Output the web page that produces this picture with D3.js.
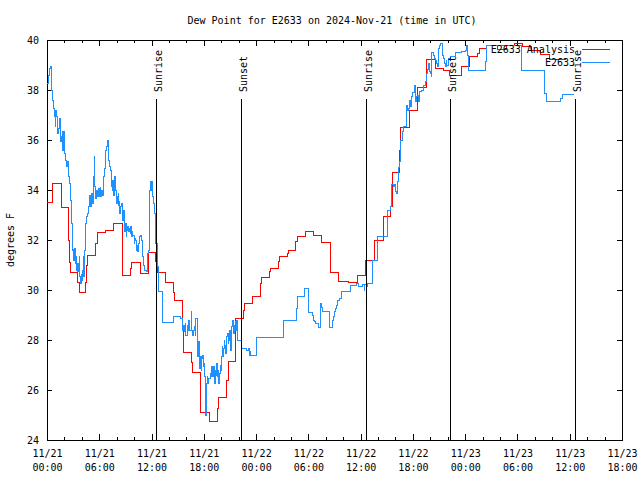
<!DOCTYPE html>
<html><head><meta charset="utf-8">
<script src="https://cdn.jsdelivr.net/npm/d3@7"></script>
<style>
body{margin:0;background:#fff}
svg text{font-family:"DejaVu Sans Mono","Liberation Mono",monospace;font-size:10px;fill:#000}
</style>
</head><body>
<svg id="c" width="640" height="480"></svg>
<script>
// ---------- data ----------
const title = "Dew Point for E2633 on 2024-Nov-21 (time in UTC)";
const yLabel = "degrees F";
const seriesNames = ["E2633 Analysis", "E2633"];
const seriesColors = ["#ff0000", "#1e90ff"];

// x: hours since 2024-11-21 00:00 UTC
const xTickHours = [0, 6, 12, 18, 24, 30, 36, 42, 48, 54, 60, 66];
const xTickDates = ["11/21","11/21","11/21","11/21","11/22","11/22","11/22","11/22","11/23","11/23","11/23","11/23"];
const xTickTimes = ["00:00","06:00","12:00","18:00","00:00","06:00","12:00","18:00","00:00","06:00","12:00","18:00"];
const yTicks = [24, 26, 28, 30, 32, 34, 36, 38, 40];

const sunEventHours = [12.47, 22.22, 36.57, 46.21, 60.56];
const sunEventLabels = ["Sunrise", "Sunset", "Sunrise", "Sunset", "Sunrise"];

// E2633 Analysis (red)
const analysisHours = [
  0, 0.64, 1.72, 2.44, 2.56, 2.67, 3.48, 3.71, 4.45, 4.57,
  4.68, 5.6, 5.74, 6.69, 7.61, 8.7, 9.62, 9.73, 10.71, 11.63,
  12.51, 12.63, 13.61, 14.53, 14.65, 15.56, 15.68, 16.6, 16.71, 17.63,
  18.66, 19.58, 19.7, 20.66, 20.78, 21.69, 22.53, 22.65, 23.62, 24.54,
  24.63, 25.57, 25.67, 26.58, 26.66, 27.58, 27.7, 28.56, 28.7, 29.65,
  30.57, 31.54, 32.58, 33.49, 34.62, 35.62, 36.54, 37.57, 38.6, 39.44,
  39.63, 39.69, 40.5, 40.61, 41.59, 41.64, 42.56, 43.54, 43.6, 44.57,
  45.55, 46.23, 47.56, 48.47, 49.39, 49.62, 50.42, 51.68, 52.71, 53.64,
  54.55, 55.59, 56.62, 57.65, 59.61
];
const analysisValues = [
  33.5, 34.25, 33.3, 32.0, 31.1, 30.7, 30.3, 29.9, 30.3, 31.0,
  31.4, 31.85, 32.3, 32.4, 32.65, 30.6, 30.85, 31.1, 30.65, 31.5,
  31.13, 30.7, 30.3, 29.9, 29.6, 28.6, 27.5, 27.1, 26.7, 25.1,
  24.75, 25.25, 25.7, 26.4, 27.15, 28.87, 29.2, 29.47, 29.75, 30.25,
  30.5, 30.73, 30.87, 31.13, 31.33, 31.47, 31.6, 31.93, 32.16, 32.33,
  32.2, 31.9, 30.7, 30.36, 30.3, 30.6, 31.2, 31.97, 32.93, 33.36,
  34.25, 34.7, 35.6, 36.5, 37.0, 37.2, 38.1, 38.67, 39.23, 38.87,
  38.8, 38.58, 38.96, 39.33, 39.47, 39.65, 39.77, 39.64, 39.77, 39.87,
  39.73, 39.57, 39.44, 39.23, 39.23
];

// E2633 observations (blue)
const obsHours = [
  0.00, 0.15, 0.23, 0.34, 0.42, 0.46, 0.53, 0.61, 0.72, 0.84,
  0.92, 0.99, 1.03, 1.11, 1.18, 1.22, 1.30, 1.37, 1.49, 1.56,
  1.60, 1.68, 1.75, 1.79, 1.87, 1.94, 1.98, 2.06, 2.13, 2.25,
  2.29, 2.36, 2.44, 2.52, 2.55, 2.63, 2.71, 2.78, 2.82, 2.90,
  2.94, 3.01, 3.09, 3.13, 3.20, 3.24, 3.32, 3.39, 3.47, 3.55,
  3.58, 3.66, 3.70, 3.77, 3.85, 3.89, 3.96, 4.00, 4.08, 4.16,
  4.19, 4.27, 4.35, 4.42, 4.54, 4.61, 4.80, 4.84, 4.92, 4.99,
  5.07, 5.18, 5.30, 5.38, 5.41, 5.49, 5.57, 5.60, 5.68, 5.76,
  5.83, 5.95, 6.06, 6.10, 6.18, 6.25, 6.33, 6.44, 6.52, 6.56,
  6.63, 6.67, 6.75, 6.82, 6.90, 6.94, 7.01, 7.09, 7.21, 7.28,
  7.40, 7.47, 7.55, 7.62, 7.70, 7.78, 7.85, 7.93, 8.01, 8.08,
  8.16, 8.20, 8.27, 8.35, 8.46, 8.54, 8.62, 8.69, 8.77, 8.84,
  8.92, 9.00, 9.07, 9.15, 9.23, 9.30, 9.49, 9.53, 9.61, 9.68,
  9.76, 9.87, 9.99, 10.06, 10.14, 10.26, 10.33, 10.37, 10.52, 10.64,
  10.71, 10.83, 10.94, 11.02, 11.09, 11.21, 11.40, 11.51, 11.59, 11.67,
  11.78, 11.86, 11.97, 12.05, 12.16, 12.24, 12.35, 12.51, 12.63, 12.74,
  12.81, 13.2, 14.53, 15.38, 15.5, 15.61, 15.68, 15.76, 15.87, 15.95,
  16.07, 16.14, 16.25, 16.33, 16.41, 16.53, 16.64, 16.71, 16.83, 16.91,
  16.99, 17.1, 17.22, 17.29, 17.4, 17.48, 17.6, 17.68, 17.75, 17.83,
  17.91, 17.98, 18.06, 18.2, 18.29, 18.37, 18.43, 18.55, 18.71, 18.78,
  18.86, 18.94, 19.01, 19.09, 19.17, 19.24, 19.32, 19.4, 19.51, 19.58,
  19.66, 19.74, 19.81, 19.89, 19.97, 20.04, 20.12, 20.2, 20.27, 20.35,
  20.43, 20.5, 20.58, 20.66, 20.73, 20.81, 20.89, 20.96, 21.04, 21.12,
  21.19, 21.27, 21.35, 21.42, 21.5, 21.58, 21.65, 21.73, 21.81, 22.27,
  22.91, 23.11, 23.19, 23.3, 23.37, 24.06, 27.12, 27.2, 28.65, 28.76,
  29.53, 29.99, 30.07, 30.45, 30.57, 30.76, 30.83, 31.14, 31.4, 31.52,
  31.6, 32.48, 32.75, 32.86, 32.98, 33.06, 33.24, 33.36, 33.52, 33.82,
  34.89, 35.54, 35.81, 36.19, 36.42, 36.5, 36.62, 36.77, 37.31, 37.37,
  37.88, 37.95, 39.03, 39.14, 39.41, 39.52, 39.78, 39.9, 40.01, 40.17,
  40.24, 40.36, 40.47, 40.55, 40.63, 40.86, 40.93, 41.24, 41.32, 41.39,
  41.51, 41.62, 41.7, 41.82, 41.93, 42.19, 42.31, 42.39, 42.47, 42.65,
  42.77, 43.04, 43.23, 43.42, 43.54, 43.69, 43.77, 43.88, 44.0, 44.11,
  44.19, 44.38, 44.46, 44.57, 44.69, 44.77, 44.88, 44.99, 45.06, 45.15,
  45.45, 45.53, 45.61, 45.72, 45.8, 45.91, 46.1, 46.29, 46.86, 47.52,
  48.01, 48.13, 48.24, 48.4, 50.31, 50.39, 54.52, 57.12, 57.31, 58.92,
  59.12, 60.52
];
const obsValues = [
  38.27, 38.6, 38.73, 38.87, 38.93, 38.6, 38.0, 37.6, 37.27, 36.93,
  36.53, 36.73, 37.2, 36.93, 36.53, 36.27, 36.33, 36.47, 36.87, 36.27,
  35.93, 36.13, 36.33, 35.6, 35.73, 36.33, 35.8, 35.47, 35.2, 35.13,
  34.93, 35.13, 34.73, 34.53, 34.33, 34.27, 33.6, 33.2, 32.67, 31.87,
  31.6, 31.64, 31.2, 31.53, 31.67, 31.07, 31.33, 30.8, 30.73, 31.07,
  30.8, 30.73, 31.33, 30.53, 30.33, 30.27, 30.64, 30.4, 30.8, 31.33,
  30.53, 31.07, 31.6, 32.67, 32.93, 33.07, 33.33, 33.6, 33.8, 33.33,
  33.87, 33.47, 34.0, 34.53, 35.33, 34.13, 33.73, 33.67, 34.0, 33.87,
  33.73, 34.07, 33.73, 34.11, 33.73, 34.0, 33.77, 34.13, 34.53, 34.8,
  34.87, 35.33, 35.6, 35.73, 35.87, 35.97, 35.6, 35.2, 34.93, 34.8,
  34.13, 34.0, 34.4, 33.8, 34.27, 34.53, 34.0, 33.87, 33.47, 33.73,
  33.87, 33.4, 33.53, 33.07, 33.33, 33.47, 33.2, 32.8, 33.2, 32.87,
  32.33, 32.67, 32.13, 32.4, 32.53, 32.33, 32.47, 32.27, 32.53, 32.13,
  32.33, 32.2, 31.87, 32.07, 32.0, 31.6, 31.8, 31.53, 31.87, 32.13,
  32.2, 32.0, 31.33, 31.07, 31.0, 30.8, 30.76, 31.07, 31.47, 31.6,
  34.0, 34.33, 34.0, 34.33, 33.73, 33.47, 33.07, 31.87, 31.07, 30.93,
  29.96, 28.71, 28.96, 28.87, 28.67, 28.4, 28.6, 28.33, 28.67, 28.2,
  28.6, 28.4, 28.8, 28.6, 28.4, 29.13, 28.4, 28.2, 28.4, 28.53,
  28.2, 28.87, 27.87, 27.33, 27.93, 26.87, 27.33, 26.8, 27.27, 27.4,
  26.93, 27.07, 26.53, 25.0, 26.27, 26.53, 26.27, 26.47, 26.67, 26.53,
  26.93, 26.8, 26.53, 26.93, 26.67, 26.27, 26.8, 26.6, 27.07, 26.53,
  26.8, 26.27, 26.67, 27.0, 26.8, 27.33, 27.73, 27.33, 27.67, 28.0,
  27.8, 27.47, 27.73, 28.13, 28.27, 27.87, 28.0, 28.4, 27.6, 28.13,
  28.53, 28.8, 28.4, 28.27, 28.6, 28.73, 28.4, 28.8, 28.0, 27.67,
  27.6, 27.67, 27.4, 27.53, 27.4, 28.1, 28.47, 28.8, 29.27, 29.76,
  30.07, 29.6, 29.1, 29.0, 28.8, 28.73, 28.67, 28.51, 29.47, 29.31,
  29.13, 28.51, 28.8, 28.93, 29.13, 29.27, 29.4, 29.6, 29.67, 29.96,
  30.2, 30.27, 30.13, 30.23, 29.97, 30.23, 30.13, 30.27, 30.73, 31.2,
  31.73, 32.16, 32.69, 33.2, 33.33, 34.24, 34.13, 34.24, 33.93, 33.87,
  34.33, 34.91, 35.13, 35.6, 36.0, 36.33, 36.53, 36.87, 37.4, 37.2,
  37.27, 37.57, 37.33, 37.73, 37.89, 38.2, 37.53, 37.73, 37.8, 37.53,
  37.93, 38.0, 38.2, 38.33, 38.67, 38.83, 39.07, 38.73, 38.67, 38.53,
  39.49, 39.4, 39.27, 39.2, 39.07, 38.93, 39.13, 39.67, 39.8, 39.87,
  39.4, 39.27, 39.07, 38.93, 39.2, 39.0, 39.27, 39.33, 39.49, 39.53,
  39.6, 39.8, 39.4, 38.8, 39.13, 39.8, 38.8, 37.87, 37.56, 37.67,
  37.84, 37.84
];

// ---------- layout ----------
const W = 640, H = 480;
const plotLeft = 47, plotRight = 622, plotTop = 40, plotBottom = 440;
const sunLineTop = 99;

const svg = d3.select("#c");
const x = d3.scaleLinear().domain([0, 66]).range([plotLeft, plotRight]);
const y = d3.scaleLinear().domain([24, 40]).range([plotBottom, plotTop]);

function styleAxis(g) {
  g.attr("font-family", null).attr("font-size", null);
  g.selectAll("path,line").attr("stroke", "#000").attr("shape-rendering", "crispEdges");
}

const minorHours = d3.range(0, 67, 2).filter(h => h % 6 !== 0);

// bottom major
const gxb = svg.append("g").attr("transform", `translate(0,${plotBottom})`)
  .call(d3.axisBottom(x).tickValues(xTickHours).tickSizeInner(-6).tickSizeOuter(0));
styleAxis(gxb);
gxb.selectAll(".tick text").each(function(d, i) {
  const t = d3.select(this);
  t.text(null).attr("dy", null).attr("y", null);
  t.append("tspan").attr("x", 0).attr("y", 16.5).text(xTickDates[i]);
  t.append("tspan").attr("x", 0).attr("y", 30.5).text(xTickTimes[i]);
});
// bottom minor
const gxbm = svg.append("g").attr("transform", `translate(0,${plotBottom})`)
  .call(d3.axisBottom(x).tickValues(minorHours).tickSizeInner(-3).tickSizeOuter(0).tickFormat(""));
styleAxis(gxbm);
// top major/minor
const gxt = svg.append("g").attr("transform", `translate(0,${plotTop})`)
  .call(d3.axisTop(x).tickValues(xTickHours).tickSizeInner(-6).tickSizeOuter(0).tickFormat(""));
styleAxis(gxt);
const gxtm = svg.append("g").attr("transform", `translate(0,${plotTop})`)
  .call(d3.axisTop(x).tickValues(minorHours).tickSizeInner(-3).tickSizeOuter(0).tickFormat(""));
styleAxis(gxtm);
// left
const gyl = svg.append("g").attr("transform", `translate(${plotLeft},0)`)
  .call(d3.axisLeft(y).tickValues(yTicks).tickSizeInner(-5).tickSizeOuter(0).tickPadding(8).tickFormat(d3.format("d")));
styleAxis(gyl);
// right
const gyr = svg.append("g").attr("transform", `translate(${plotRight},0)`)
  .call(d3.axisRight(y).tickValues(yTicks).tickSizeInner(-5).tickSizeOuter(0).tickFormat(""));
styleAxis(gyr);

// title and y label
svg.append("text").attr("x", 332).attr("y", 23.5).attr("text-anchor", "middle").text(title);
svg.append("text").attr("transform", `translate(13.5,${(plotTop + plotBottom) / 2}) rotate(-90)`)
  .attr("text-anchor", "middle").text(yLabel);

// series
const line = d3.line().x(d => x(d[0])).y(d => y(d[1])).curve(d3.curveStepAfter);
const analysis = analysisHours.map((h, i) => [h, analysisValues[i]]);
const obs = obsHours.map((h, i) => [h, obsValues[i]]);

svg.append("path").datum(analysis).attr("d", line)
  .attr("fill", "none").attr("stroke", seriesColors[0]).attr("stroke-width", 1)
  .attr("shape-rendering", "crispEdges");
svg.append("path").datum(obs).attr("d", line)
  .attr("fill", "none").attr("stroke", seriesColors[1]).attr("stroke-width", 1)
  .attr("shape-rendering", "crispEdges");

// sunrise / sunset markers
const sun = svg.append("g");
sunEventHours.forEach((h, i) => {
  const px = Math.round(x(h)) + 0.5;
  sun.append("line").attr("x1", px).attr("x2", px)
    .attr("y1", sunLineTop).attr("y2", plotBottom)
    .attr("stroke", "#000").attr("stroke-width", 1).attr("shape-rendering", "crispEdges");
  sun.append("text").attr("transform", `translate(${px + 5},92) rotate(-90)`)
    .attr("text-anchor", "start").text(sunEventLabels[i]);
});

// legend
const legendTextX = 575, legendLineX1 = 582, legendLineX2 = 610;
const legendRows = [49.5, 62.5];
seriesNames.forEach((name, i) => {
  svg.append("text").attr("x", legendTextX).attr("y", legendRows[i] + 3.8)
    .attr("text-anchor", "end").text(name);
  svg.append("line").attr("x1", legendLineX1).attr("x2", legendLineX2)
    .attr("y1", legendRows[i]).attr("y2", legendRows[i])
    .attr("stroke", seriesColors[i]).attr("stroke-width", 1).attr("shape-rendering", "crispEdges");
});
</script>
</body></html>
